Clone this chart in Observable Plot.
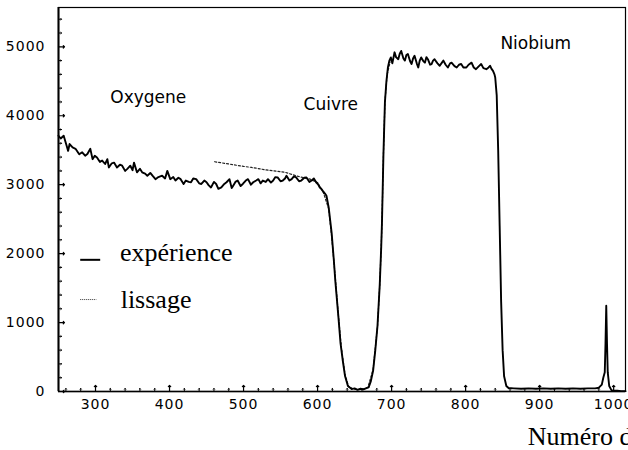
<!DOCTYPE html>
<html><head><meta charset="utf-8">
<script src="https://cdn.jsdelivr.net/npm/d3@7"></script>
<script src="https://cdn.jsdelivr.net/npm/@observablehq/plot@0.6"></script>
<style>
html,body{margin:0;padding:0;background:#fff;overflow:hidden;}
#chart svg{display:block;overflow:hidden;}
g[aria-label="x-axis tick label"] text, g[aria-label="y-axis tick label"] text{letter-spacing:1px;}
</style></head><body><div id="chart"></div>
<script>
// Experimental spectrum (channel, counts)
const channels = [250,253,257,261,263,265,269,273,278,282,286,289,293,296,299,302,306,309,313,316,318,322,325,329,333,336,340,343,347,350,352,356,360,363,367,370,374,377,381,385,390,394,397,401,405,408,412,415,419,422,426,429,432,436,440,443,447,450,453,456,460,463,466,470,474,477,481,484,486,489,492,496,499,503,506,510,513,517,520,523,526,530,533,537,540,543,546,550,553,556,558,562,565,568,571,575,578,582,585,589,592,595,598,601,603,605,607,610,612,615,619,622,624,626,628,631,634,637,641,646,650,654,658,662,666,669,672,675,678,681,684,686,687,689,691,693,695,697,699,701,704,706,709,711,713,716,718,720,722,725,727,729,731,734,736,738,740,743,745,747,749,752,754,756,758,762,765,768,770,773,776,779,781,785,788,791,794,797,801,804,808,811,814,818,821,824,828,831,833,835,837,839,840,842,844,846,848,850,852,855,858,865,875,885,895,905,915,925,935,945,955,965,975,980,984,986,988,989,990,991,992,994,997,1000,1005,1010,1016];
const counts = [3710,3670,3710,3565,3490,3590,3540,3520,3440,3470,3420,3445,3520,3370,3420,3395,3330,3350,3300,3370,3250,3310,3320,3250,3290,3275,3200,3230,3275,3210,3320,3180,3230,3180,3160,3130,3170,3130,3080,3110,3130,3090,3200,3080,3110,3060,3100,3080,3010,3060,3040,3035,3090,3080,3020,3010,3060,3035,2990,2960,3040,3010,2940,2960,3010,3035,3080,2950,2985,3040,3060,2980,3010,3060,3080,3000,3035,3060,3080,3020,3060,3040,3080,3030,3060,3110,3105,3050,3060,3090,3130,3060,3080,3120,3105,3050,3060,3100,3105,3040,3060,3090,3035,3000,2960,2940,2910,2870,2840,2670,2300,1900,1600,1350,1100,700,450,230,80,35,45,25,40,30,50,60,150,300,600,960,1550,2100,2450,3450,4200,4500,4700,4800,4845,4760,4920,4850,4820,4900,4940,4830,4800,4880,4895,4790,4750,4830,4870,4760,4700,4800,4845,4790,4770,4850,4820,4740,4750,4800,4820,4760,4725,4770,4800,4740,4700,4760,4770,4720,4700,4740,4750,4700,4700,4740,4770,4700,4675,4720,4750,4690,4675,4700,4725,4680,4650,4600,4555,4300,3500,2400,1300,600,220,80,50,45,40,45,40,45,40,45,40,45,40,45,45,55,100,200,280,700,1245,700,280,80,20,10,10,5,5];
// Smoothing (lissage)
const fitChannels = [461,480,500,511,530,556,574,590,600,608,615,619,624,628,632,637,642,650,660,668,675,681,684,686,687,689,691,694,698];
const fitCounts = [3333,3300,3265,3250,3215,3180,3120,3080,3030,2880,2650,2250,1650,1120,650,250,70,30,30,60,320,950,1550,2100,2450,3450,4200,4600,4780];
// Ticks and labels
const xTicks = [300,400,500,600,700,800,900,1000];
const yTicks = [0,1000,2000,3000,4000,5000];
const regionLabels = ["Oxygene","Cuivre","Niobium"];
const legendLabels = ["expérience","lissage"];
const xLabel = "Numéro de canal";

const exp = channels.map((c,i)=>({c, n: counts[i]}));
const fit = fitChannels.map((c,i)=>({c, n: fitCounts[i]}));
const xMinor = d3.range(260, 1016, 20).filter(v => v % 100 !== 0);
const yMinor = d3.range(200, 5570, 200).filter(v => v % 1000 !== 0);

const serif = "Liberation Serif, Times New Roman, serif";
const sans = "DejaVu Sans, sans-serif";
const fmt = d3.format("d");

const chart = Plot.plot({
  width: 628, height: 450,
  marginLeft: 58, marginRight: 3, marginTop: 7, marginBottom: 59,
  x: {domain: [250, 1016]},
  y: {domain: [0, 5570]},
  style: {fontFamily: sans, fontSize: "14px", background: "white", color: "black"},
  marks: [
    Plot.frame({stroke: "black", strokeWidth: 1.2}),
    Plot.ruleX([250], {stroke: "black", strokeWidth: 2}),
    Plot.ruleY([0], {stroke: "black", strokeWidth: 1.6}),
    // inward ticks
    Plot.vector(xMinor, {x: d => d, y: 0, length: 3, rotate: 0, anchor: "start", stroke: "black", strokeWidth: 1}),
    Plot.vector(xTicks, {x: d => d, y: 0, length: 6, rotate: 0, anchor: "start", stroke: "black", strokeWidth: 1.2}),
    Plot.vector(yMinor, {x: 250, y: d => d, length: 3, rotate: 90, anchor: "start", stroke: "black", strokeWidth: 1}),
    Plot.vector(yTicks, {x: 250, y: d => d, length: 6, rotate: 90, anchor: "start", stroke: "black", strokeWidth: 1.2}),
    Plot.axisX({ticks: xTicks, tickSize: 0, tickPadding: 8, tickFormat: fmt, label: null, fontSize: 14}),
    Plot.axisY({ticks: yTicks, tickSize: 0, tickPadding: 13, tickFormat: fmt, label: null, fontSize: 14}),
    Plot.line(fit, {x: "c", y: "n", stroke: "#222", strokeWidth: 1.2, strokeDasharray: "2,2"}),
    Plot.line(exp, {x: "c", y: "n", stroke: "black", strokeWidth: 1.9}),
    Plot.text([regionLabels[0]], {x: 320, y: 4182, text: d => d, textAnchor: "start", lineAnchor: "bottom", fontSize: 17, fontFamily: sans}),
    Plot.text([regionLabels[1]], {x: 581, y: 4076, text: d => d, textAnchor: "start", lineAnchor: "bottom", fontSize: 17, fontFamily: sans}),
    Plot.text([regionLabels[2]], {x: 847, y: 4961, text: d => d, textAnchor: "start", lineAnchor: "bottom", fontSize: 17, fontFamily: sans}),
    Plot.ruleY([1910], {x1: 280, x2: 307, stroke: "black", strokeWidth: 2}),
    Plot.ruleY([1334], {x1: 280, x2: 302, stroke: "#333", strokeWidth: 1, strokeDasharray: "1,1"}),
    Plot.text([legendLabels[0]], {x: 333, y: 1886, text: d => d, textAnchor: "start", lineAnchor: "bottom", fontSize: 26, fontFamily: serif}),
    Plot.text([legendLabels[1]], {x: 334, y: 1204, text: d => d, textAnchor: "start", lineAnchor: "bottom", fontSize: 26, fontFamily: serif}),
    Plot.text([xLabel], {x: 884, y: -783, text: d => d, textAnchor: "start", lineAnchor: "bottom", fontSize: 26, fontFamily: serif})
  ]
});
document.getElementById("chart").appendChild(chart);
</script></body></html>
